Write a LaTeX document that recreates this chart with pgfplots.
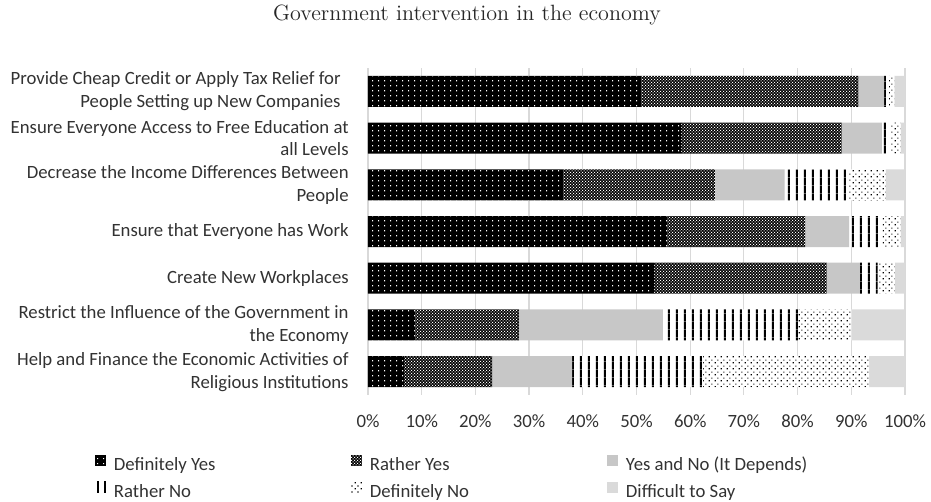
\documentclass[border=0pt]{standalone}
\usepackage{fontspec}
\newfontfamily\carlito{Carlito}
\usepackage{pgfplots}
\pgfplotsset{compat=1.18}
\usetikzlibrary{patterns}

\pgfdeclarepatternformonly{dyp}{\pgfpointorigin}{\pgfpoint{2.8bp}{2.6bp}}{\pgfpoint{2.8bp}{2.6bp}}{%
  \pgfpathrectangle{\pgfpoint{1.1bp}{1.0bp}}{\pgfpoint{0.6bp}{0.6bp}}\pgfusepath{fill}}
\pgfdeclarepatternformonly{ryp}{\pgfpointorigin}{\pgfpoint{1.5bp}{1.5bp}}{\pgfpoint{1.5bp}{1.5bp}}{%
  \pgfpathrectangle{\pgfpoint{0bp}{0bp}}{\pgfpoint{0.6bp}{0.6bp}}%
  \pgfpathrectangle{\pgfpoint{0.75bp}{0.75bp}}{\pgfpoint{0.6bp}{0.6bp}}\pgfusepath{fill}}
\pgfdeclarepatternformonly{rnp}{\pgfpointorigin}{\pgfpoint{3.9bp}{3.9bp}}{\pgfpoint{3.9bp}{3.9bp}}{%
  \pgfpathrectangle{\pgfpoint{1.45bp}{0bp}}{\pgfpoint{1bp}{3.9bp}}\pgfusepath{fill}}
\pgfdeclarepatternformonly{dnp}{\pgfpointorigin}{\pgfpoint{3bp}{3bp}}{\pgfpoint{3bp}{3bp}}{%
  \pgfpathrectangle{\pgfpoint{0.4bp}{0.4bp}}{\pgfpoint{0.7bp}{0.7bp}}%
  \pgfpathrectangle{\pgfpoint{1.9bp}{1.9bp}}{\pgfpoint{0.7bp}{0.7bp}}\pgfusepath{fill}}

\definecolor{yn}{RGB}{199,199,199}
\definecolor{ds}{RGB}{218,218,218}
\definecolor{gridc}{RGB}{217,217,217}
\definecolor{txt}{RGB}{50,50,50}

\pgfplotsset{
  sqlegend/.style={legend image code/.code={\path[##1] (0bp,-0.2bp) rectangle (5.5bp,5.3bp);}},
  sdy/.style={fill=black, draw=none, postaction={pattern=dyp, pattern color=white}, sqlegend},
  sry/.style={fill=black, draw=none, postaction={pattern=ryp, pattern color=white}, sqlegend},
  syn/.style={fill=yn, draw=none, sqlegend},
  srn/.style={fill=white, draw=none, postaction={pattern=rnp, pattern color=black}, sqlegend},
  sdn/.style={fill=white, draw=none, postaction={pattern=dnp, pattern color=black}, sqlegend},
  sds/.style={fill=ds, draw=none, sqlegend},
}

\begin{document}
\begin{tikzpicture}
\useasboundingbox (-184bp,-53.5bp) rectangle (281.5bp,197.5bp);
\begin{axis}[
  scale only axis, width=268.5bp, height=163.5bp,
  xbar stacked, bar width=15.5bp,
  xmin=0, xmax=100, ymin=-0.5, ymax=6.5, y dir=reverse,
  xtick={0,10,...,100}, xticklabel={\pgfmathprintnumber{\tick}\%},
  ytick={0,...,6},
  yticklabels={
    {Provide Cheap Credit or Apply Tax Relief for\hspace*{4bp}\\People Setting up New Companies\hspace*{4bp}},
    {Ensure Everyone Access to Free Education at\\all Levels},
    {Decrease the Income Differences Between\\People},
    {Ensure that Everyone has Work},
    {Create New Workplaces},
    {Restrict the Influence of the Government in\\the Economy},
    {Help and Finance the Economic Activities of\\Religious Institutions}},
  xmajorgrids, grid style={gridc, line width=0.6bp},
  axis line style={draw=none}, major tick length=0pt, tick style={draw=none},
  tick label style={font=\carlito\fontsize{9.4}{11.5}\selectfont, text=txt},
  /pgf/number format/assume math mode=true,
  yticklabel style={align=right, inner sep=0pt, xshift=-9.5bp},
  xticklabel style={inner sep=0pt, anchor=north, yshift=-9.5bp},
  legend columns=3, legend cell align=left,
  legend style={at={(-0.5084,-0.1835)}, anchor=north west, draw=none, fill=none,
    inner sep=0pt, outer sep=0pt, row sep=3.5bp,
    font=\carlito\fontsize{9.4}{11.5}\selectfont, text=txt,
    nodes={inner sep=0pt, text height=7bp, text depth=2bp},
    /tikz/every odd column/.append style={column sep=4bp}},
]
\addplot[sdy] coordinates {(50.9,0) (58.3,1) (36.4,2) (55.8,3) (53.3,4) (8.8,5) (6.7,6)};
\addlegendentry{\makebox[118.5bp][l]{Definitely Yes}}
\addplot[sry] coordinates {(40.4,0) (29.9,1) (28.2,2) (25.6,3) (32.1,4) (19.3,5) (16.4,6)};
\addlegendentry{\makebox[118.5bp][l]{Rather Yes}}
\addplot[syn] coordinates {(4.8,0) (7.5,1) (13.0,2) (8.2,3) (6.2,4) (26.8,5) (14.9,6)};
\addlegendentry{\makebox[118.5bp][l]{Yes and No (It Depends)}}
\addplot[srn] coordinates {(0.9,0) (1.6,1) (11.9,2) (6.2,3) (3.3,4) (25.2,5) (24.4,6)};
\addlegendentry{\makebox[118.5bp][l]{Rather No}}
\addplot[sdn] coordinates {(1.0,0) (1.9,1) (6.9,2) (3.4,3) (3.2,4) (9.9,5) (30.9,6)};
\addlegendentry{\makebox[118.5bp][l]{Definitely No}}
\addplot[sds] coordinates {(2.0,0) (0.8,1) (3.6,2) (0.8,3) (1.9,4) (10.0,5) (6.7,6)};
\addlegendentry{\makebox[118.5bp][l]{Difficult to Say}}
\end{axis}
\node[font=\fontsize{11.1}{13}\selectfont, text=black!85, inner sep=0pt] at (49.5bp,190bp) {Government intervention in the economy};
\end{tikzpicture}
\end{document}
